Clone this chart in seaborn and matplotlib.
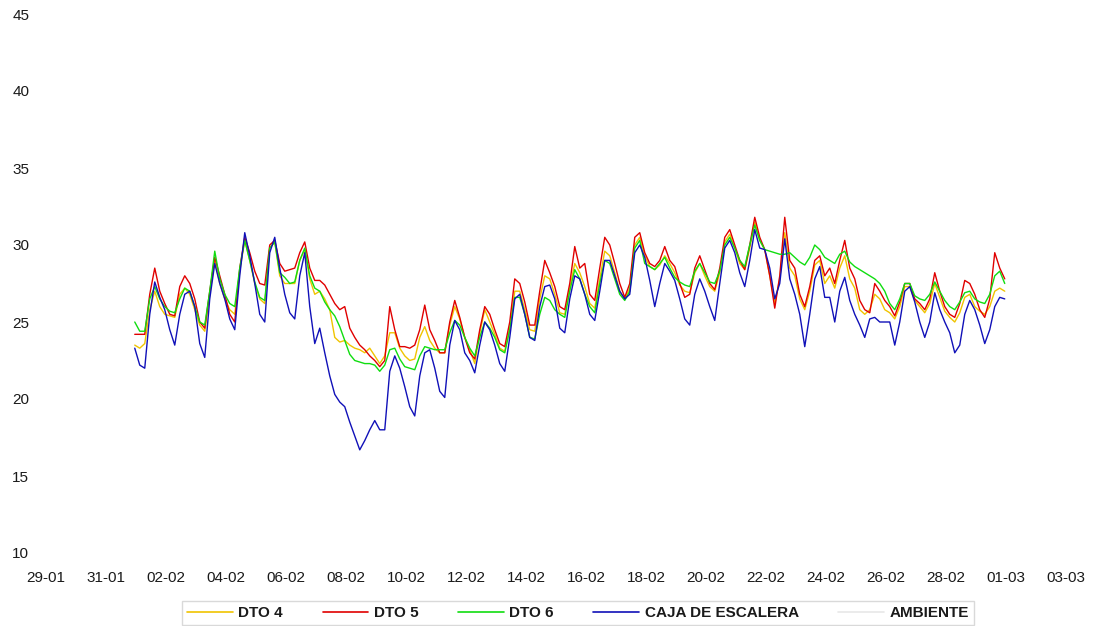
import numpy as np
import pandas as pd
import matplotlib
matplotlib.use("Agg")
import matplotlib.pyplot as plt
import matplotlib.dates as mdates
from matplotlib.lines import Line2D
import seaborn as sns

# ---------------- data ----------------
# readings every 4 h, from 31-01 23:00 to 29-02 23:00 (2012, leap year)
start_time = "2012-01-31 23:00"
n_points = 175

caja_escalera = [
    23.3,
    22.2, 22.0, 25.5, 27.6, 26.6, 25.8,
    24.5, 23.5, 25.5, 26.8, 27.0, 26.0,
    23.6, 22.7, 26.5, 28.8, 27.5, 26.5,
    25.2, 24.5, 28.0, 30.8, 29.3, 27.5,
    25.5, 25.0, 29.5, 30.5, 28.5, 26.8,
    25.6, 25.2, 28.0, 29.5, 26.0, 23.6,
    24.6, 23.0, 21.5, 20.3, 19.8, 19.5,
    18.5, 17.6, 16.7, 17.3, 18.0, 18.6,
    18.0, 18.0, 21.8, 22.8, 22.0, 20.8,
    19.5, 18.9, 21.5, 23.0, 23.2, 22.0,
    20.5, 20.1, 23.5, 25.1, 24.5, 23.0,
    22.5, 21.7, 23.5, 25.0, 24.5, 23.5,
    22.3, 21.8, 24.0, 26.5, 26.8, 25.5,
    24.0, 23.8, 26.0, 27.3, 27.4, 26.5,
    24.6, 24.3, 26.5, 28.0, 27.8, 26.8,
    25.5, 25.1, 27.0, 29.0, 29.0, 28.0,
    27.0, 26.5, 26.8, 29.5, 30.0, 29.2,
    27.7, 26.0, 27.5, 28.8, 28.3, 27.7,
    26.5, 25.2, 24.8, 26.8, 27.8, 27.0,
    26.0, 25.1, 27.5, 29.8, 30.3, 29.5,
    28.2, 27.3, 29.0, 31.0, 29.8, 29.7,
    28.5, 26.5, 27.5, 30.4, 27.8, 26.8,
    25.5, 23.4, 25.5, 27.8, 28.6, 26.6,
    26.6, 25.0, 27.0, 27.9, 26.4, 25.5,
    24.8, 24.0, 25.2, 25.3, 25.0, 25.0,
    25.0, 23.5, 25.0, 27.0, 27.3, 26.3,
    25.0, 24.0, 25.0, 26.9, 25.8, 25.0,
    24.3, 23.0, 23.5, 25.5, 26.4, 25.8,
    24.8, 23.6, 24.5, 26.0, 26.6, 26.5,
]

dto5 = [
    24.2,
    24.2, 24.2, 26.8, 28.5, 27.0, 26.2,
    25.5, 25.4, 27.3, 28.0, 27.5, 26.5,
    25.0, 24.6, 27.0, 29.2, 28.0, 26.8,
    25.5, 25.0, 28.5, 30.5, 29.5, 28.3,
    27.5, 27.4, 30.0, 30.3, 28.8, 28.3,
    28.4, 28.5, 29.5, 30.2, 28.5, 27.7,
    27.7, 27.4, 26.8, 26.2, 25.8, 26.0,
    24.6, 24.0, 23.5, 23.2, 22.8, 22.5,
    22.1, 22.5, 26.0, 24.5, 23.4, 23.4,
    23.3, 23.5, 24.5, 26.1, 24.5, 23.8,
    23.0, 23.0, 25.0, 26.4, 25.3, 24.0,
    23.0, 22.6, 24.5, 26.0, 25.5, 24.5,
    23.6, 23.4, 25.0, 27.8, 27.5, 26.3,
    24.8, 24.8, 27.0, 29.0, 28.2, 27.3,
    26.0, 25.8, 27.5, 29.9, 28.5, 28.8,
    26.8, 26.4, 28.5, 30.5, 30.0, 28.8,
    27.5, 26.6, 27.5, 30.5, 30.8, 29.5,
    28.8, 28.6, 29.0, 29.9, 29.0, 28.6,
    27.5, 26.6, 26.8, 28.5, 29.3, 28.4,
    27.5, 27.1, 28.5, 30.5, 31.0, 30.0,
    29.0, 28.4, 30.0, 31.8, 30.5, 29.7,
    28.0, 25.9, 28.0, 31.8, 29.0, 28.5,
    26.8, 26.0, 27.3, 29.0, 29.3, 28.0,
    28.5, 27.5, 29.0, 30.3, 28.5, 27.8,
    26.4, 25.8, 25.6, 27.5, 27.0, 26.4,
    26.0, 25.4, 26.3, 27.5, 27.5, 26.5,
    26.2, 25.8, 26.5, 28.2, 27.0, 26.0,
    25.5, 25.3, 26.2, 27.7, 27.5, 26.8,
    25.8, 25.3, 26.5, 29.5, 28.5, 27.8,
]

dto6 = [
    25.0,
    24.4, 24.4, 26.5, 27.3, 26.5, 26.0,
    25.7, 25.6, 26.5, 27.2, 27.0, 26.0,
    25.0, 24.8, 27.0, 29.6, 27.8, 26.8,
    26.2, 26.0, 28.5, 30.3, 29.0, 27.6,
    26.6, 26.4, 29.8, 30.2, 28.2, 27.9,
    27.5, 27.6, 29.0, 29.8, 28.0, 27.2,
    27.0, 26.3, 25.8, 25.4, 24.7, 23.8,
    22.9, 22.5, 22.4, 22.3, 22.3, 22.2,
    21.8, 22.2, 23.2, 23.3, 22.6, 22.1,
    22.0, 21.9, 22.8, 23.4, 23.3, 23.2,
    23.2, 23.2, 24.3, 25.1, 24.8, 24.0,
    23.3, 22.8, 24.0, 25.0, 24.6, 24.0,
    23.2, 23.0, 24.5, 26.6, 26.6, 25.5,
    24.0, 23.9, 25.5, 26.6, 26.4, 25.8,
    25.5, 25.3, 27.0, 28.4, 27.8, 26.8,
    26.0, 25.6, 27.5, 29.0, 28.8, 27.8,
    26.8, 26.4, 27.0, 29.8, 30.3, 28.8,
    28.6, 28.4, 28.8, 29.2, 28.5, 27.9,
    27.6, 27.4, 27.3, 28.3, 28.8, 28.2,
    27.6, 27.5, 28.3, 30.0, 30.5, 29.8,
    29.0, 28.6, 30.0, 31.3, 30.3, 29.7,
    29.6, 29.5, 29.4, 29.4, 29.5, 29.2,
    28.9, 28.7, 29.2, 30.0, 29.7, 29.2,
    29.0, 28.8, 29.4, 29.6, 28.9, 28.6,
    28.4, 28.2, 28.0, 27.8, 27.5, 27.0,
    26.2, 25.8, 26.5, 27.5, 27.5, 26.7,
    26.5, 26.4, 26.8, 27.6, 27.0, 26.4,
    26.0, 25.8, 26.3, 26.9, 27.0, 26.5,
    26.3, 26.2, 26.8, 28.0, 28.3, 27.5,
]

dto4 = [
    23.5,
    23.3, 23.6, 25.8, 27.0, 26.0, 25.5,
    25.4, 25.3, 26.8, 27.2, 26.8, 25.8,
    24.8, 24.4, 26.8, 29.0, 27.5, 26.5,
    25.8, 25.5, 28.3, 30.3, 29.0, 27.5,
    26.5, 26.2, 29.8, 30.2, 28.0, 27.5,
    27.5, 27.5, 29.0, 29.7, 27.8, 26.8,
    27.0, 26.5, 25.8, 24.0, 23.7, 23.8,
    23.5, 23.3, 23.2, 23.0, 23.3, 22.8,
    22.3, 22.8, 24.3, 24.3, 23.3, 22.8,
    22.5, 22.6, 24.0, 24.7, 23.8, 23.3,
    23.0, 23.0, 24.8, 26.0, 25.2, 24.0,
    23.2, 22.3, 24.3, 25.8, 25.0, 24.2,
    23.3, 23.1, 24.6, 27.0, 27.0, 25.8,
    24.5, 24.4, 26.5, 28.0, 27.8, 26.8,
    25.6, 25.5, 27.2, 28.8, 28.2, 27.3,
    26.2, 25.9, 27.8, 29.6, 29.3, 28.2,
    27.0, 26.5, 27.2, 30.0, 30.5, 29.3,
    28.6, 28.4, 28.7, 29.3, 28.8, 28.2,
    27.4, 27.0, 26.9, 28.2, 28.8, 28.0,
    27.3, 27.0, 28.2, 30.2, 30.7, 29.8,
    28.8, 28.4, 29.8, 31.5, 30.3, 29.7,
    28.0, 26.2, 27.8, 30.8, 28.5, 28.0,
    26.5, 25.8, 27.0, 28.7, 29.0, 27.5,
    28.0, 27.2, 28.5, 29.3, 27.8, 27.2,
    25.8, 25.5, 25.8, 26.8, 26.5, 25.8,
    25.6, 25.2, 26.0, 27.3, 27.3, 26.4,
    26.0, 25.6, 26.2, 27.5, 26.6, 25.7,
    25.3, 25.0, 25.6, 26.6, 26.8, 26.0,
    25.7, 25.5, 26.0, 27.0, 27.2, 27.0,
]

ambiente = []  # no visible data in the chart

series_names = ["DTO 4", "DTO 5", "DTO 6", "CAJA DE ESCALERA", "AMBIENTE"]
y_ticks = [10, 15, 20, 25, 30, 35, 40, 45]
x_tick_start, x_tick_end = "2012-01-29", "2012-03-03"

# ---------------- styling ----------------
colors = {
    "DTO 4": "#f0c400",
    "DTO 5": "#e00000",
    "DTO 6": "#10dd10",
    "CAJA DE ESCALERA": "#1010b8",
    "AMBIENTE": "#e8e8e8",
}

sns.set_theme(style="white")
plt.rcParams["font.family"] = ["Liberation Sans", "DejaVu Sans"]

times = pd.date_range(start_time, periods=n_points, freq="4h")
data = {"DTO 4": dto4, "DTO 5": dto5, "DTO 6": dto6,
        "CAJA DE ESCALERA": caja_escalera}

W, H = 1095, 626
fig = plt.figure(figsize=(W / 100, H / 100), dpi=100)
ax = fig.add_axes([46 / W, 1 - 553 / H, (1066 - 46) / W, (553 - 14) / H])

for name in ["DTO 4", "DTO 5", "DTO 6", "CAJA DE ESCALERA"]:
    sns.lineplot(x=times, y=data[name], ax=ax, color=colors[name],
                 linewidth=1.0, label=name, legend=False)
ax.plot(pd.to_datetime([]), ambiente, color=colors["AMBIENTE"],
        linewidth=1.0, label="AMBIENTE")

ax.set_xlim(pd.Timestamp(x_tick_start), pd.Timestamp(x_tick_end))
ax.set_ylim(10, 45)
ax.set_yticks(y_ticks)
ax.set_xticks(pd.date_range(x_tick_start, x_tick_end, freq="2D"))
ax.xaxis.set_major_formatter(mdates.DateFormatter("%d-%m"))
ax.tick_params(axis="both", length=0, labelsize=11, colors="#1a1a1a")
ax.tick_params(axis="y", pad=12)
ax.tick_params(axis="x", pad=13)
ax.set_xlabel("")
ax.set_ylabel("")
for s in ax.spines.values():
    s.set_visible(False)
ax.grid(False)

handles = [Line2D([0], [0], color=colors[n], linewidth=1.2) for n in series_names]
leg = fig.legend(handles, series_names, loc="center",
                 bbox_to_anchor=(578 / W, 1 - 613 / H), ncol=5,
                 frameon=True, fancybox=False, handlelength=3.0,
                 handletextpad=0.35, columnspacing=2.6, borderpad=0.35,
                 prop={"family": ["Liberation Sans", "DejaVu Sans"],
                       "weight": "bold", "size": 11})
leg.get_frame().set_edgecolor("#d0d0d0")
leg.get_frame().set_linewidth(1.0)
for t in leg.get_texts():
    t.set_color("#1a1a1a")

fig.savefig("out.png", dpi=100)
